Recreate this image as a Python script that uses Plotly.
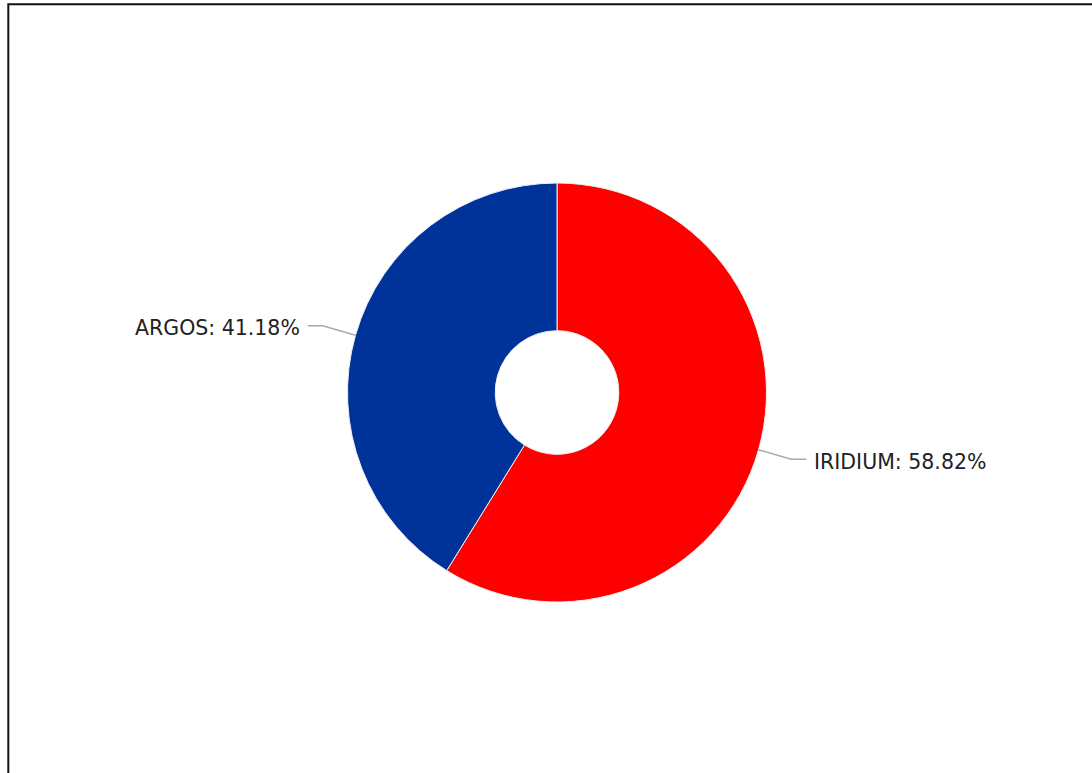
import math
import plotly.graph_objects as go

# ---- data ----
labels = ["IRIDIUM", "ARGOS"]
values = [10, 7]
colors = ["#ff0000", "#003399"]

# ---- layout constants (pixels) ----
W, H = 1092, 773
cx, cy, R = 557, 392.5, 209.5
hole = 0.295
elbow = 34
tail = 15
gap = 6

def px(x):
    return x / W

def py(y):
    return 1 - y / H

fig = go.Figure()
fig.add_trace(go.Pie(
    labels=labels,
    values=values,
    marker=dict(colors=colors, line=dict(color="#f0f0f0", width=1)),
    hole=hole,
    sort=False,
    direction="clockwise",
    rotation=0,
    textinfo="none",
    hoverinfo="label+percent",
    showlegend=False,
    domain=dict(x=[px(cx - R), px(cx + R)], y=[py(cy + R), py(cy - R)]),
))

total = sum(values)
cum = 0
shapes = []
annotations = []
for lab, v in zip(labels, values):
    mid = (cum + v / 2) / total * 2 * math.pi
    cum += v
    dx, dy = math.sin(mid), -math.cos(mid)
    x0, y0 = cx + R * dx, cy + R * dy
    x1, y1 = cx + (R + elbow) * dx, cy + (R + elbow) * dy
    side = 1 if dx >= 0 else -1
    x2, y2 = x1 + side * tail, y1
    shapes.append(dict(
        type="path", xref="paper", yref="paper",
        path=f"M {px(x0)} {py(y0)} L {px(x1)} {py(y1)} L {px(x2)} {py(y2)}",
        line=dict(color="#aaaaaa", width=1.5),
    ))
    pct = v / total * 100
    annotations.append(dict(
        x=px(x2 + side * gap), y=py(y2 + 2.5), xref="paper", yref="paper",
        text=f"{lab}: {pct:.2f}%", showarrow=False,
        xanchor="left" if side > 0 else "right", yanchor="middle",
        font=dict(family="DejaVu Sans", size=20.5, color="#222222"),
    ))

# frame border (top and left visible, extends beyond the view)
shapes.append(dict(
    type="rect", xref="paper", yref="paper",
    x0=px(8.3), y0=-0.05, x1=1.05, y1=py(4.3),
    line=dict(color="#111111", width=2),
))

fig.update_layout(
    width=W, height=H,
    margin=dict(l=0, r=0, t=0, b=0),
    paper_bgcolor="#ffffff",
    plot_bgcolor="#ffffff",
    shapes=shapes,
    annotations=annotations,
)

fig.write_html("out.html", config={"displayModeBar": False},
               post_script="document.body.style.margin='0';")
